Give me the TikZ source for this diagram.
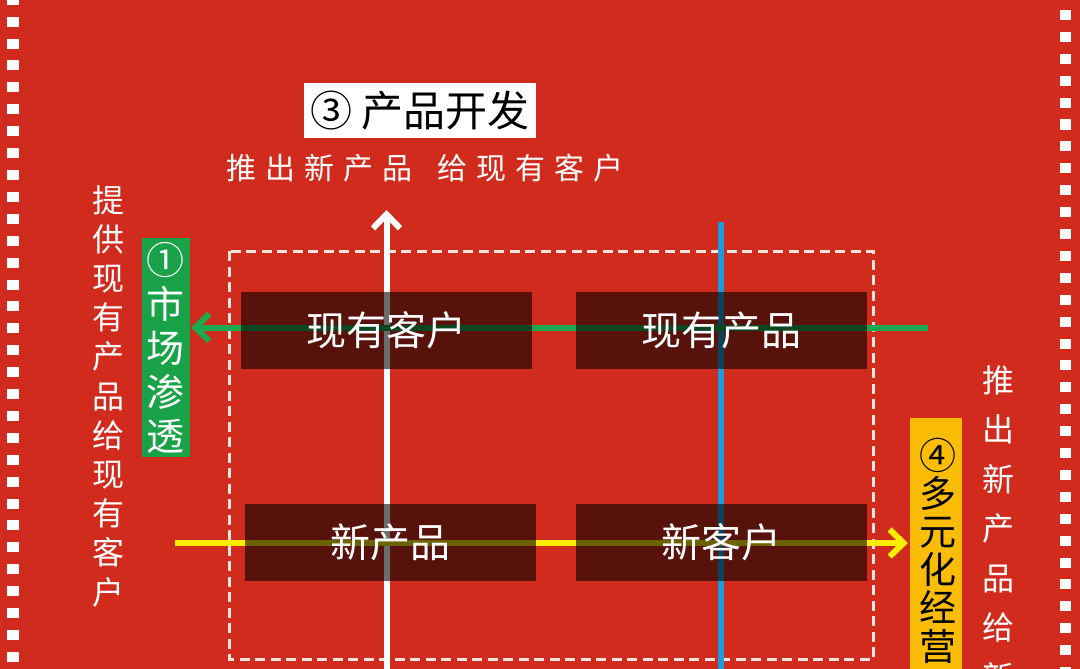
\documentclass[tikz,border=0pt]{standalone}
\usepackage{fontspec}
\setmainfont{Noto Sans CJK SC}
\usetikzlibrary{arrows.meta}
\lineskiplimit=-50pt
\definecolor{bgred}{RGB}{209,43,30}
\definecolor{dashc}{RGB}{250,228,222}
\definecolor{lineblue}{RGB}{30,155,220}
\definecolor{linegreen}{RGB}{28,168,78}
\definecolor{boxgreen}{RGB}{26,162,72}
\definecolor{lineyellow}{RGB}{255,236,0}
\definecolor{boxyellow}{RGB}{251,188,5}
\newcommand{\gp}{\hspace{9pt}}
\tikzset{
  cell/.style={fill=black, fill opacity=0.58, text opacity=1, text=white,
    minimum width=291pt, minimum height=77pt, inner sep=0pt,
    font=\fontsize{40}{44}\selectfont},
  vtext/.style={text=white, align=center, inner sep=0pt},
  flowline/.style={line width=6pt},
  barb/.style={-{Straight Barb[length=14pt,width=27pt]}},
}
\begin{document}
\begin{tikzpicture}[x=1pt,y=-1pt]
\useasboundingbox (0,0) rectangle (1080,669);
\clip (0,0) rectangle (1080,669);
\fill[bgred] (0,0) rectangle (1080,669);
% film-strip borders
\foreach \k in {-1,...,29}
  \fill[white] (7,{21.7+21.9*\k-5}) rectangle ++(12,10);
\foreach \k in {0,...,30}
  \fill[white] (1060,{15+21.9*\k-5}) rectangle ++(11,10);
% dashed frame
\draw[dashc, line width=3pt, dash pattern=on 10pt off 5.5pt] (229,251) rectangle (873,659);
% lines
\coordinate (wB) at (386.5,672);
\coordinate (wT) at (386.5,210);
\coordinate (bT) at (721,222);
\coordinate (bB) at (721,672);
\coordinate (gS) at (928,327.5);
\coordinate (gE) at (191,327.5);
\coordinate (yS) at (175,543);
\coordinate (yE) at (908,543);
\draw[flowline, white, barb] (wB) -- (wT);
\draw[flowline, lineblue] (bT) -- (bB);
\draw[flowline, linegreen, barb] (gS) -- (gE);
\draw[flowline, lineyellow, barb] (yS) -- (yE);
% matrix cells
\node[cell] (c1) at (386.5,330.5) {现有客户};
\node[cell] (c2) at (721,330.5) {现有产品};
\node[cell] (c3) at (390.5,542.5) {新产品};
\node[cell] (c4) at (721,542.5) {新客户};
% title
\node[fill=white, text=black, minimum width=232pt, minimum height=55pt, inner sep=0pt,
  font=\fontsize{42}{46}\selectfont] (title) at (420,110.5) {③ 产品开发};
\node[text=white, inner sep=0pt, font=\fontsize{30}{34}\selectfont] (sub) at (425,168)
  {推\gp 出\gp 新\gp 产\gp 品\hspace{25pt}给\gp 现\gp 有\gp 客\gp 户};
% green label box
\fill[boxgreen] (142,238) rectangle (190,457);
\node[vtext, font=\fontsize{38}{44}\selectfont] (mp) at (165.5,348)
  {①\\市\\场\\渗\\透};
% yellow label box
\fill[boxyellow] (910,418) rectangle (962,680);
\node[vtext, text=black, font=\fontsize{37}{38.2}\selectfont] (dv) at (938,550.5)
  {④\\多\\元\\化\\经\\营};
% side descriptions
\node[vtext, font=\fontsize{32}{39.2}\selectfont] (lt) at (108,396)
  {提\\供\\现\\有\\产\\品\\给\\现\\有\\客\\户};
\node[vtext, font=\fontsize{32}{49.5}\selectfont] (rt) at (998,528.5)
  {推\\出\\新\\产\\品\\给\\新};
\end{tikzpicture}
\end{document}
